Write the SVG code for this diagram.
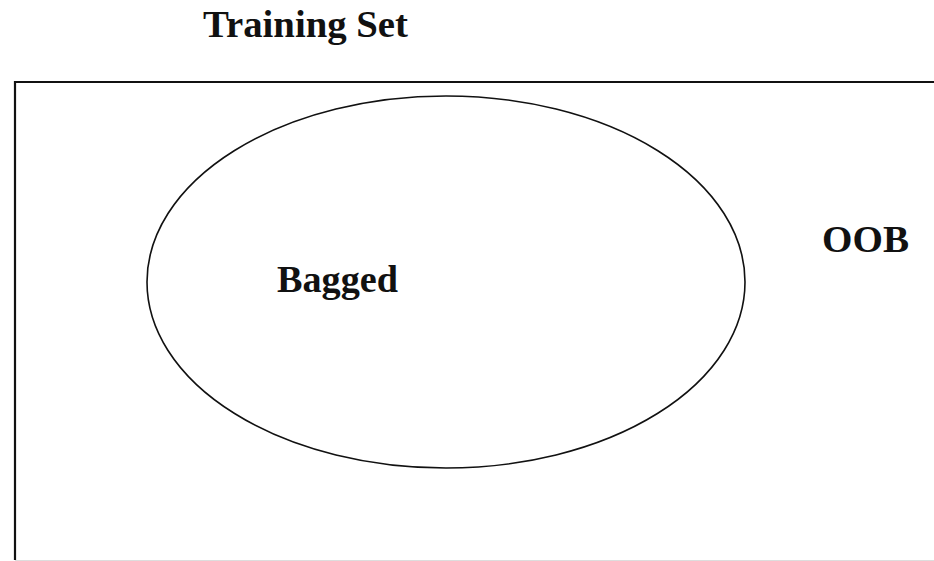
<svg xmlns="http://www.w3.org/2000/svg" width="934" height="561" viewBox="0 0 934 561">
<style>
.lbl{font-family:"Liberation Serif","Times New Roman",serif;font-weight:bold;font-size:37px;fill:#111}
.ln{fill:none;stroke:#111}
</style>
<rect x="0" y="0" width="934" height="561" fill="#fff"/>
<g id="training-set">
<path class="ln" stroke-width="2.2" d="M15,560 V82 H934"/>
<path stroke="#ddd" stroke-width="1" d="M15,560.5 H934"/>
<text class="lbl" x="203" y="37" textLength="205" lengthAdjust="spacingAndGlyphs">Training Set</text>
</g>
<g id="bagged">
<ellipse class="ln" stroke-width="1.6" cx="446" cy="282" rx="299" ry="186"/>
<text class="lbl" x="277" y="292" textLength="121" lengthAdjust="spacingAndGlyphs">Bagged</text>
</g>
<g id="oob">
<text class="lbl" x="822" y="252" textLength="87" lengthAdjust="spacingAndGlyphs">OOB</text>
</g>
<g id="connectors"></g>
</svg>
